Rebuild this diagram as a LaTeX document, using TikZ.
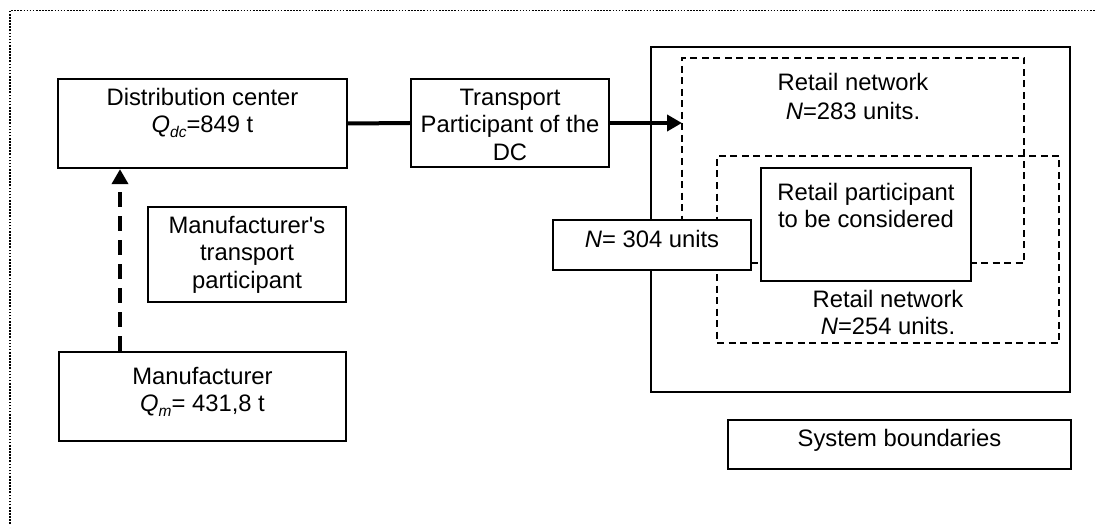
\documentclass[tikz,border=0pt]{standalone}
\usepackage{fontspec}
\setmainfont{Liberation Sans}
\usetikzlibrary{arrows.meta}
\newcommand\boxfont{\fontsize{23.8}{27.5}\selectfont}
\newcommand\subtxt[1]{\raisebox{-0.22em}{\fontsize{15.5}{18}\selectfont\itshape #1}}
\begin{document}
\begin{tikzpicture}[x=1pt,y=-1pt,
  box/.style={draw, line width=2.3pt, fill=white, inner sep=0pt},
  lab/.style={anchor=north, inner sep=0pt, align=center, font=\boxfont},
  dashbox/.style={line width=1.8pt, dash pattern=on 7pt off 4.5pt},
  flow/.style={line width=4pt},
  tip/.style={-{Triangle[length=15pt,width=16pt]}},
  frame/.style={line width=1.8pt, dash pattern=on 1.6pt off 1.5pt}]
\useasboundingbox (0,0) rectangle (1096,524);

% outer dotted frame
\draw[frame] (10,524) -- (10,10.5) -- (1096,10.5);

% system boundary
\node[box, line width=1.8pt, fill=none, minimum width=419pt, minimum height=345pt] (sys) at (860.5,219.5) {};

% the two retail networks
\draw[dashbox] (682,263) -- (1024,263) -- (1024,58) -- (682,58) -- cycle;
\draw[dashbox] (717,343) -- (1059,343) -- (1059,156) -- (717,156) -- cycle;
\coordinate (netAin) at (682,123);

% boxes
\node[box, minimum width=289pt, minimum height=89pt] (dc) at (202.5,123.5) {};
\node[box, minimum width=198pt, minimum height=88pt] (tp) at (510,123) {};
\node[box, minimum width=198pt, minimum height=95pt] (mtp) at (247,254.5) {};
\node[box, minimum width=287pt, minimum height=89pt] (mf) at (202.5,396.5) {};
\node[box, minimum width=210pt, minimum height=113pt] (rp) at (866,224.5) {};
\node[box, minimum width=198pt, minimum height=50pt] (npt) at (652,245) {};
\node[box, minimum width=343pt, minimum height=49pt] (sb) at (899.5,444.5) {};

% texts
\node[lab] (dct) at (202.5,85.75) {\strut Distribution center\\{\itshape Q}\subtxt{dc}=849 t};
\node[lab] (tpt) at (510,85.75) {\strut Transport\\Participant of the\\DC};
\node[lab] (mtpt) at (247,213.75) {\strut Manufacturer\textquotesingle s\\transport\\participant};
\node[lab] (mft) at (202.5,364.75) {\strut Manufacturer\\{\itshape Q}\subtxt{m}= 431,8 t};
\node[lab] (netAt) at (853,70.75) {\strut Retail network\\[2pt]{\itshape N}=283 units.};
\node[lab] (rpt) at (866,180.75) {\strut Retail participant\\to be considered};
\node[lab] (netBt) at (888,287.75) {\strut Retail network\\{\itshape N}=254 units.};
\node[lab] (nptt) at (652,227.75) {\strut{\itshape N}= 304 units};
\node[lab] (sbt) at (899.5,426.75) {\strut System boundaries};

% flows
\coordinate (ax) at (120,0);
\draw[flow] (dc.east) -- (tp.west);
\draw[flow, tip] (tp.east) -- (netAin);
\draw[flow, tip, dash pattern=on 15pt off 9pt] (mf.north -| ax) -- (dc.south -| ax);
\end{tikzpicture}
\end{document}
